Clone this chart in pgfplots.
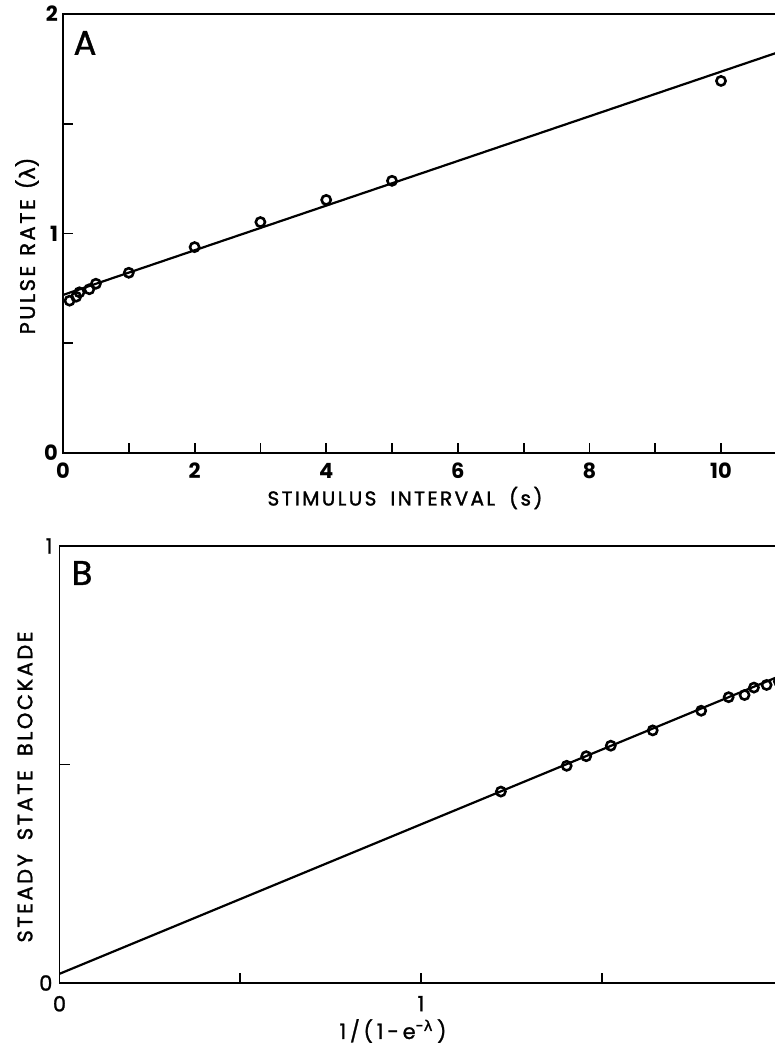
\documentclass[border=0pt]{standalone}
\usepackage{pgfplots}
\pgfplotsset{compat=1.18}
\usepackage{fontspec}
\setmainfont{Poppins}
\newfontfamily\labfont{Poppins}[FakeBold=1.5, LetterSpace=12]
\newfontfamily\medfont{Poppins}[FakeBold=1.2]
\newfontfamily\gk{DejaVu Sans}[FakeBold=1.5]
\newcommand\wsp{\hspace{7pt}}
\begin{document}
\begin{tikzpicture}
\useasboundingbox (0pt,0pt) rectangle (387.5pt,526.5pt);
\pgfplotsset{
  common/.style={
    scale only axis, anchor=south west,
    tick align=inside, xtick pos=bottom, ytick pos=left,
    major tick length=5pt,
    axis line style={line width=0.9pt},
    every tick/.style={black, line width=0.9pt},
    /pgf/number format/assume math mode=true,
    clip=true,
  }
}
% ---------- Panel A ----------
\begin{axis}[common,
  at={(31.5pt,300pt)}, width=361.9pt, height=219.5pt,
  xmin=0, xmax=11, ymin=0, ymax=2,
  xtick={0,1,...,11}, xticklabels={0,,2,,4,,6,,8,,10,},
  ytick={0,0.5,...,2}, yticklabels={0,,1,,2},
  xticklabel style={font=\bfseries\fontsize{10.5}{12}\selectfont, yshift=-1.5pt},
  yticklabel style={font=\bfseries\fontsize{10.5}{12}\selectfont, xshift=1pt},
]
\addplot[black, line width=1.1pt] coordinates {(0,0.72) (11,1.839)};
\addplot[only marks, mark=o, mark size=2.3pt, black, line width=1.3pt,
  mark options={fill=white}] coordinates {
(0.1,0.694) (0.2,0.712) (0.25,0.732) (0.4,0.746) (0.5,0.771) (1,0.821)
(2,0.938) (3,1.052) (4,1.153) (5,1.24) (10,1.695)};
\end{axis}
% ---------- Panel B ----------
\begin{axis}[common,
  at={(29.75pt,35pt)}, width=361.5pt, height=218.5pt,
  xmin=0, xmax=2, ymin=0, ymax=1,
  xtick={0,0.5,...,2}, xticklabels={0,,1,,2},
  ytick={0,0.5,1}, yticklabels={0,,1},
  xticklabel style={font=\medfont\fontsize{10.5}{12}\selectfont, yshift=-3pt},
  yticklabel style={font=\medfont\fontsize{10.5}{12}\selectfont},
]
\addplot[black, line width=1.1pt] coordinates {(0,0.021) (2,0.705)};
\addplot[only marks, mark=o, mark size=2.3pt, black, line width=1.3pt,
  mark options={fill=white}] coordinates {
(1.221,0.438) (1.403,0.497) (1.457,0.519) (1.525,0.543) (1.641,0.578)
(1.775,0.623) (1.851,0.654) (1.895,0.659) (1.921,0.676) (1.956,0.682) (1.99,0.69)};
\end{axis}
% ---------- labels ----------
\node[font=\medfont\fontsize{17}{19}\selectfont] at (42.5pt,505pt) {A};
\node[font=\medfont\fontsize{17}{19}\selectfont] at (41pt,240pt) {B};
\node[font=\labfont\fontsize{10}{11}\selectfont] at (202.5pt,277.5pt) {STIMULUS\wsp INTERVAL\wsp(s)};
\node[font=\labfont\fontsize{10.5}{11}\selectfont, rotate=90] at (13.5pt,403.5pt) {PULSE\hspace{5pt}RATE\hspace{5pt}({\gk λ})};
\node[font=\labfont\fontsize{10.5}{11}\selectfont, rotate=90] at (12.5pt,133pt) {STEADY\wsp STATE\wsp BLOCKADE};
\node[font=\medfont\fontsize{10.5}{12}\selectfont\addfontfeature{LetterSpace=18}] at (196.5pt,11pt) {1/\,(1-e\textsuperscript{-{\gk λ}}\,)};
\end{tikzpicture}
\end{document}
